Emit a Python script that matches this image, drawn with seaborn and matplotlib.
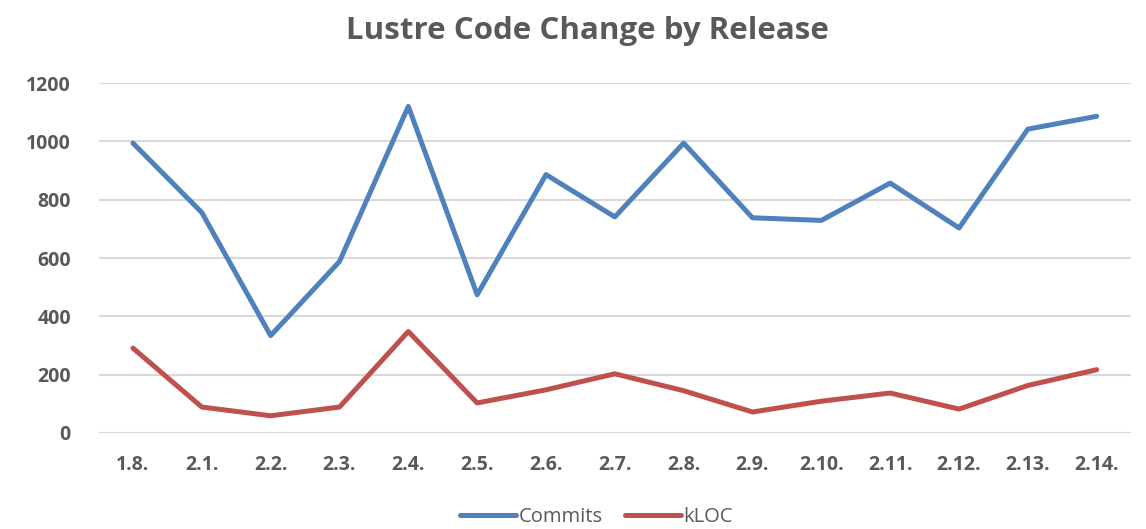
import matplotlib.pyplot as plt
import seaborn as sns
import pandas as pd

releases = ['1.8.', '2.1.', '2.2.', '2.3.', '2.4.', '2.5.', '2.6.', '2.7.',
            '2.8.', '2.9.', '2.10.', '2.11.', '2.12.', '2.13.', '2.14.']
commits = [994, 756, 334, 588, 1120, 474, 886, 741, 994, 738, 729, 857, 703, 1042, 1086]
kloc = [291, 89, 59, 89, 348, 103, 148, 203, 145, 72, 109, 137, 82, 163, 217]

df = pd.DataFrame({
    'Release': releases * 2,
    'Value': commits + kloc,
    'Series': ['Commits'] * len(releases) + ['kLOC'] * len(releases),
})

sns.set_style('white')
plt.rcParams['font.family'] = ['Open Sans', 'DejaVu Sans']
grey = '#595959'

fig = plt.figure(figsize=(11.46, 5.29), dpi=100)
ax = fig.add_axes([0.086, 0.1815, 0.901, 0.6615])

sns.lineplot(data=df, x='Release', y='Value', hue='Series', sort=False,
             palette={'Commits': '#4F81BD', 'kLOC': '#C0504D'},
             linewidth=3.6, ax=ax, legend=True)

ax.set_xlim(-0.5, len(releases) - 0.5)
ax.set_ylim(0, 1200)
ax.set_yticks(range(0, 1201, 200))
ax.yaxis.grid(True, color='#D9D9D9', linewidth=1.5)
ax.set_axisbelow(True)
for s in ax.spines.values():
    s.set_visible(False)
ax.tick_params(axis='both', length=0, labelsize=14, labelcolor=grey)
ax.tick_params(axis='x', pad=16)
ax.tick_params(axis='y', pad=20)
for lbl in ax.get_xticklabels() + ax.get_yticklabels():
    lbl.set_fontweight('bold')
ax.set_xlabel('')
ax.set_ylabel('')

fig.suptitle('Lustre Code Change by Release', x=0.513, y=0.97, fontsize=22.5,
             fontweight='bold', color=grey)

handles, labels = ax.get_legend_handles_labels()
ax.legend(handles, labels, loc='center', bbox_to_anchor=(0.482, -0.24),
          bbox_transform=ax.transAxes, ncol=2, frameon=False, fontsize=14.5,
          labelcolor=grey, handlelength=2.8, handletextpad=0.12, columnspacing=1.1)

fig.savefig('out.png', dpi=100)
